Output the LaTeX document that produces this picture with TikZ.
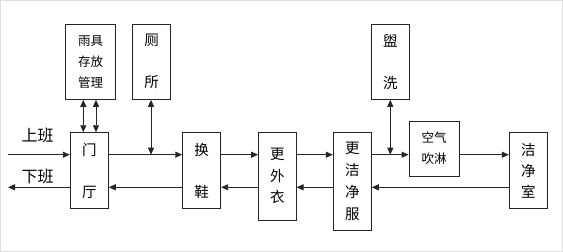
\documentclass[tikz,border=0pt]{standalone}
\usepackage{fontspec}
\newfontfamily\cjk{Noto Sans CJK SC}
\usetikzlibrary{arrows.meta}
\begin{document}
\begin{tikzpicture}[x=1pt,y=-1pt,
  box/.style={draw=black!85, line width=0.9pt, rectangle, inner sep=0pt, align=center,
    font=\cjk\fontsize{14.5}{22}\selectfont},
  smallbox/.style={box, font=\cjk\fontsize{12.5}{21}\selectfont},
  conn/.style={draw=black!85, line width=0.9pt, -{Triangle[length=7pt,width=6pt]}},
  dconn/.style={draw=black!85, line width=0.9pt, {Triangle[length=7pt,width=6pt]}-{Triangle[length=7pt,width=6pt]}},
  lbl/.style={font=\cjk\fontsize{16}{18}\selectfont, inner sep=0pt}]
\useasboundingbox (0,0) rectangle (563,252);
\draw[black!12, line width=1pt] (0.5,0.5) rectangle (562.5,251.5);
% boxes
\node[smallbox, minimum width=50pt, minimum height=75.3pt] (yuju) at (90.7,61.7) {雨具\\存放\\管理};
\node[box, minimum width=38pt, minimum height=75.3pt] (cesuo) at (151.7,61.7) {厕\\[20pt]所};
\node[box, minimum width=38pt, minimum height=76pt] (mending) at (89.3,170.7) {门\\[20pt]厅};
\node[box, minimum width=38pt, minimum height=76pt] (huanxie) at (201.7,170.7) {换\\[20pt]鞋};
\node[box, minimum width=37.5pt, minimum height=87.3pt, font=\cjk\fontsize{14.5}{21.5}\selectfont] (waiyi) at (277.3,176.3) {更\\外\\衣};
\node[box, minimum width=38pt, minimum height=97.3pt] (jiefu) at (352.3,181.3) {更\\洁\\净\\服};
\node[box, minimum width=38pt, minimum height=75.3pt] (guanxi) at (390.3,61.7) {盥\\[20pt]洗};
\node[smallbox, minimum width=50.3pt, minimum height=54.7pt] (chuilin) at (434.2,148.7) {空气\\吹淋};
\node[box, minimum width=38pt, minimum height=76pt, font=\cjk\fontsize{14.5}{21.3}\selectfont] (jiejing) at (528.3,170.7) {洁\\净\\室};
% labels
\node[lbl] (shangban) at (37.5,135) {上班};
\node[lbl] (xiaban) at (37.5,176.7) {下班};
% line levels
\coordinate (uy) at (0,154.7);
\coordinate (ly) at (0,187.3);
\coordinate (inL) at (8,154.7);
\coordinate (outL) at (8,187.3);
% upper flow
\draw[conn] (inL) -- (mending.west |- uy);
\draw[conn] (mending.east |- uy) -- (huanxie.west |- uy);
\draw[conn] (huanxie.east |- uy) -- (waiyi.west |- uy);
\draw[conn] (waiyi.east |- uy) -- (jiefu.west |- uy);
\draw[conn] (jiefu.east |- uy) -- (chuilin.west |- uy);
\draw[conn] (chuilin.east |- uy) -- (jiejing.west |- uy);
% lower flow
\draw[conn] (jiejing.west |- ly) -- (jiefu.east |- ly);
\draw[conn] (jiefu.west |- ly) -- (waiyi.east |- ly);
\draw[conn] (waiyi.west |- ly) -- (huanxie.east |- ly);
\draw[conn] (huanxie.west |- ly) -- (mending.east |- ly);
\draw[conn] (mending.west |- ly) -- (outL);
% side connections
\draw[dconn] ([xshift=-7.4pt]yuju.south) -- ([xshift=-7.4pt]yuju.south |- mending.north);
\draw[dconn] ([xshift=5.3pt]yuju.south) -- ([xshift=5.3pt]yuju.south |- mending.north);
\draw[dconn] ([xshift=-0.7pt]cesuo.south) -- ([xshift=-0.7pt]cesuo.south |- uy);
\draw[dconn] (guanxi.south) -- (guanxi.south |- uy);
\end{tikzpicture}
\end{document}
